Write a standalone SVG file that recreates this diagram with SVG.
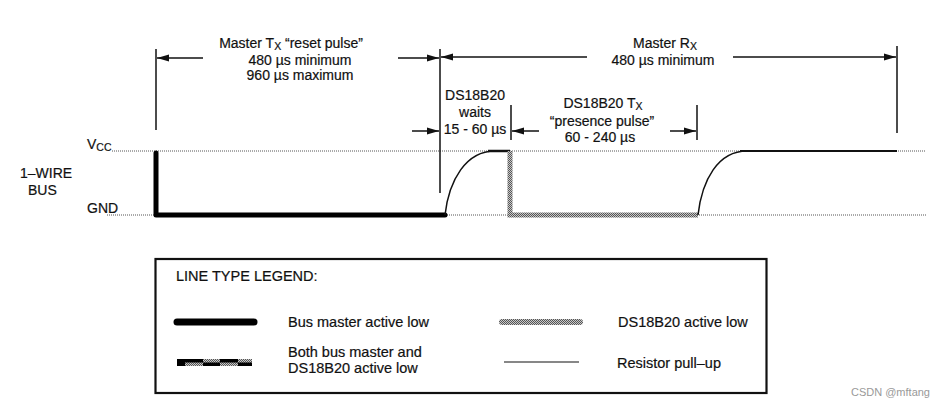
<svg xmlns="http://www.w3.org/2000/svg" width="941" height="408" viewBox="0 0 941 408">
<style>
text{font-family:"Liberation Sans",Arial,sans-serif;font-size:14px;fill:#111;stroke:#111;stroke-width:0.2}
.sub{font-size:10.5px}
.leg{font-size:14.5px}
.ref{stroke:#555;stroke-width:1;stroke-dasharray:1 1;fill:none}
.dim{stroke:#111;stroke-width:1.5;fill:none}
.arr{stroke:#111;stroke-width:1.5;fill:none;marker-end:url(#ah)}
.master{stroke:#000;stroke-width:5;fill:none;stroke-linejoin:round;stroke-linecap:round}
.slave{stroke:url(#chk);stroke-width:5;fill:none}
.pull{stroke:#111;stroke-width:1.5;fill:none}
</style>
<defs>
<pattern id="chk" width="2" height="2" patternUnits="userSpaceOnUse">
<rect width="2" height="2" fill="#c8c8c8"/>
<rect width="1" height="1" fill="#555"/>
<rect x="1" y="1" width="1" height="1" fill="#555"/>
</pattern>
<marker id="ah" markerWidth="13" markerHeight="8" refX="12" refY="4" orient="auto" markerUnits="userSpaceOnUse">
<path d="M0,0.5 L12,4 L0,7.5 Z" fill="#111"/>
</marker>
</defs>

<g id="labels-left">
<text x="87" y="149">V<tspan class="sub" dy="2">CC</tspan></text>
<text x="20" y="178">1–WIRE</text>
<text x="28" y="195">BUS</text>
<text x="87" y="213">GND</text>
</g>

<g id="reference-lines">
<line class="ref" x1="112" y1="151" x2="926" y2="151"/>
<line class="ref" x1="107" y1="215" x2="926" y2="215"/>
</g>

<g id="connectors">
<line class="dim" x1="156" y1="49" x2="156" y2="130"/>
<line class="dim" x1="440" y1="49" x2="440" y2="193"/>
<line class="dim" x1="897" y1="46" x2="897" y2="133"/>
<line class="dim" x1="511" y1="105" x2="511" y2="140"/>
<line class="dim" x1="697" y1="105" x2="697" y2="140"/>
<line class="arr" x1="203" y1="58" x2="157" y2="58"/>
<line class="arr" x1="398" y1="58" x2="439" y2="58"/>
<line class="arr" x1="587" y1="57" x2="441" y2="57"/>
<line class="arr" x1="733" y1="57" x2="896" y2="57"/>
<line class="arr" x1="412" y1="131" x2="439" y2="131"/>
<line class="arr" x1="539" y1="131" x2="512" y2="131"/>
<line class="arr" x1="670" y1="131" x2="696" y2="131"/>
</g>

<g id="waveform">
<path class="master" d="M156,153 L156,215 L445,215"/>
<path class="pull" d="M445,215 C449,180 466,151 495,151 L510,151"/>
<line x1="488" y1="151" x2="510" y2="151" stroke="#111" stroke-width="2.5"/>
<path class="slave" d="M510,151 L510,215 L698,215"/>
<path class="pull" d="M698,215 C702,180 718,151 747,151 L897,151"/>
<line x1="740" y1="151" x2="897" y2="151" stroke="#111" stroke-width="2.2"/>
</g>

<g id="label-reset">
<text x="291" y="48" text-anchor="middle">Master T<tspan class="sub" dy="2">X</tspan><tspan dy="-2"> “reset pulse”</tspan></text>
<text x="300" y="65" text-anchor="middle">480 µs minimum</text>
<text x="300" y="80" text-anchor="middle">960 µs maximum</text>
</g>
<g id="label-rx">
<text x="665" y="48" text-anchor="middle">Master R<tspan class="sub" dy="2">X</tspan></text>
<text x="663" y="65" text-anchor="middle">480 µs minimum</text>
</g>
<g id="label-waits">
<text x="475" y="100" text-anchor="middle">DS18B20</text>
<text x="475" y="117" text-anchor="middle">waits</text>
<text x="475" y="134" text-anchor="middle">15 - 60 µs</text>
</g>
<g id="label-presence">
<text x="603" y="108" text-anchor="middle">DS18B20 T<tspan class="sub" dy="2">X</tspan></text>
<text x="602" y="126" text-anchor="middle">“presence pulse”</text>
<text x="600" y="142" text-anchor="middle">60 - 240 µs</text>
</g>

<g id="legend">
<rect x="155.5" y="259" width="611" height="134" fill="none" stroke="#111" stroke-width="2.2"/>
<text class="leg" x="176" y="281">LINE TYPE LEGEND:</text>
<line x1="177" y1="322" x2="254" y2="322" stroke="#000" stroke-width="7" stroke-linecap="round"/>
<text class="leg" x="288" y="327">Bus master active low</text>
<line x1="502" y1="322" x2="580" y2="322" stroke="url(#chk)" stroke-width="6" stroke-linecap="round"/>
<text class="leg" x="618" y="327">DS18B20 active low</text>
<g id="mixed">
<rect x="177" y="359" width="75" height="7" fill="#000"/>
<rect x="185" y="362.5" width="18" height="3.5" fill="url(#chk)"/>
<rect x="203" y="359" width="17" height="3.5" fill="url(#chk)"/>
<rect x="220" y="362.5" width="18" height="3.5" fill="url(#chk)"/>
<rect x="238" y="359" width="14" height="3.5" fill="url(#chk)"/>
</g>
<text class="leg" x="288" y="357">Both bus master and</text>
<text class="leg" x="288" y="373">DS18B20 active low</text>
<line x1="504" y1="362" x2="579" y2="362" stroke="#111" stroke-width="1.2"/>
<text class="leg" x="617" y="368">Resistor pull–up</text>
</g>

<text x="930" y="396" text-anchor="end" style="font-size:11px;fill:#999;stroke:none">CSDN @mftang</text>
</svg>
